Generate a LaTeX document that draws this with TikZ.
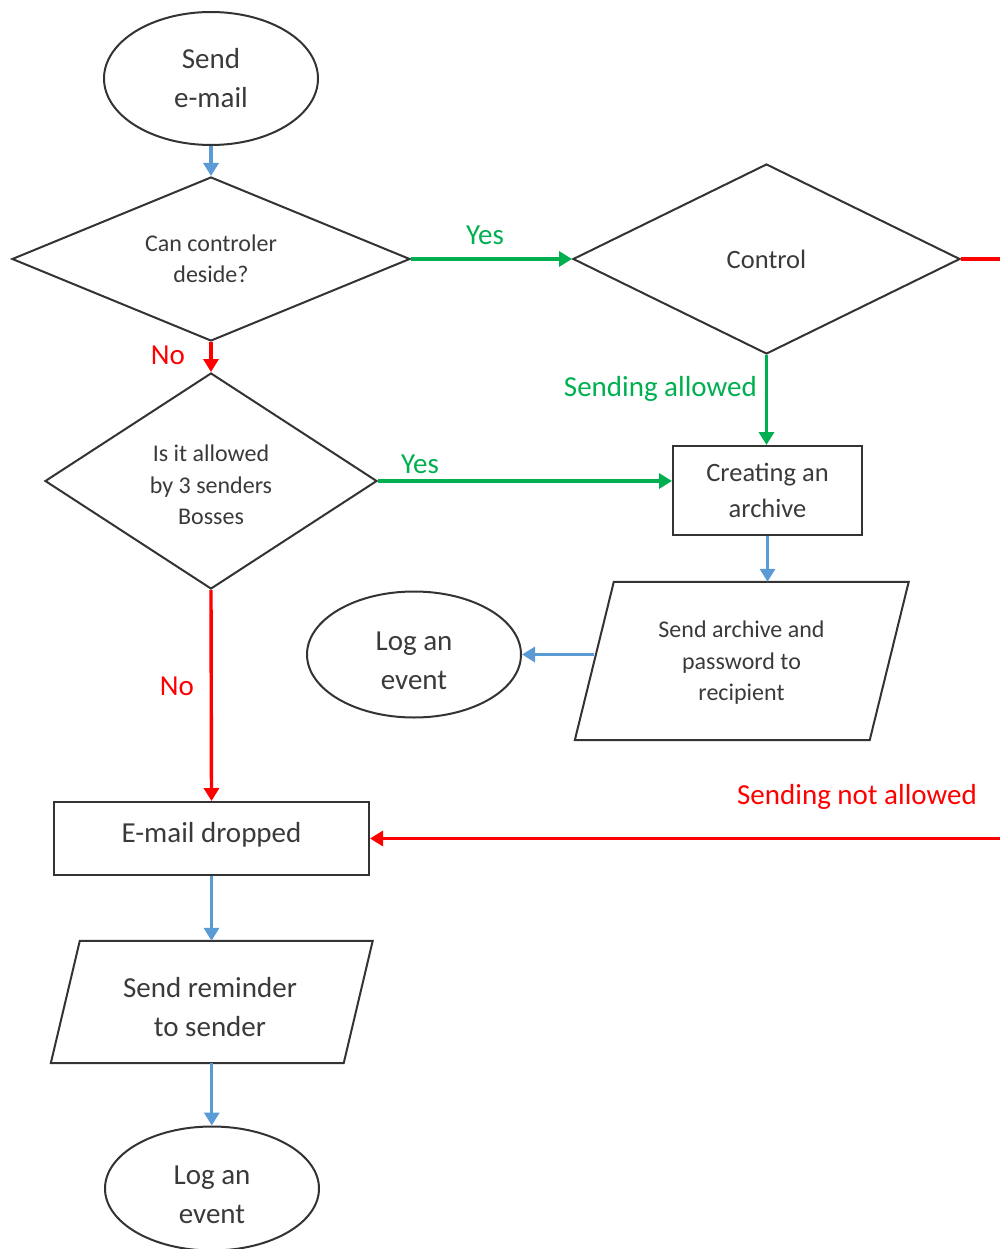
\documentclass[tikz,border=0pt]{standalone}
\usepackage{fontspec}
\setmainfont{Carlito}
\usetikzlibrary{shapes.geometric,arrows.meta}
\definecolor{flowblue}{HTML}{5B9BD5}
\definecolor{flowgreen}{HTML}{00B050}
\definecolor{flowred}{HTML}{FF0000}
\definecolor{inkgray}{HTML}{3A3A3A}
\begin{document}
\begin{tikzpicture}[x=1pt,y=-1pt,
  bigtext/.style={font=\fontsize{29}{39}\selectfont},
  midtext/.style={font=\fontsize{26.5}{36}\selectfont},
  smalltext/.style={font=\fontsize{24}{31.5}\selectfont},
  outline/.style={draw=black!80,line width=2pt,text=inkgray,align=center,inner sep=0pt},
  terminal/.style={outline,ellipse,minimum width=214pt,bigtext},
  decision/.style={outline,diamond,smalltext},
  process/.style={outline,rectangle},
  iobox/.style={rectangle,inner sep=0pt,align=center,text=inkgray},
  caption/.style={inner sep=0pt,align=center,text=inkgray},
  slanted/.style={draw=black!80,line width=2pt,line join=miter},
  conn/.style={line width=3.4pt,-{Triangle[length=13pt,width=15pt]}},
  flowlabel/.style={inner sep=0pt,bigtext}
]
\useasboundingbox (0,0) rectangle (1000,1249);
\clip (0,0) rectangle (1000,1249);

% start, decisions and process boxes
\node[terminal,minimum height=133pt] (send) at (211,78.5) {Send\\e-mail};
\node[decision,minimum width=398pt,minimum height=164pt,shape aspect=2.43] (d1) at (211,259) {Can controler\\deside?};
\node[decision,minimum width=387pt,minimum height=190pt,shape aspect=2.04,midtext] (ctl) at (766.5,259) {Control};
\node[decision,minimum width=332pt,minimum height=216pt,shape aspect=1.54] (d2) at (211,481) {};
\node[caption,smalltext] (d2text) at (211,485) {Is it allowed\\by 3 senders\\Bosses};
\node[process,minimum width=189pt,minimum height=89pt,midtext] (arch) at (767.5,490.5) {Creating an\\archive};

% data box: send archive
\node[iobox,minimum width=294.5pt,minimum height=158pt] (p1) at (741.75,661) {};
\draw[slanted] ([xshift=19.5pt]p1.north west) -- ([xshift=19.5pt]p1.north east)
  -- ([xshift=-19.5pt]p1.south east) -- ([xshift=-19.5pt]p1.south west) -- cycle;
\node[caption,smalltext] (p1text) at (741.5,663) {Send archive and\\password to\\recipient};

\node[terminal,minimum height=126pt] (log1) at (414,654.5) {};
\node[caption,bigtext] (log1text) at (414,661) {Log an\\event};

\node[process,minimum width=315pt,minimum height=73pt] (drop) at (211.5,838.5) {};
\node[caption,bigtext] (droptext) at (211.5,834.5) {E-mail dropped};

% data box: reminder
\node[iobox,minimum width=292.5pt,minimum height=122pt] (p2) at (211.75,1002) {};
\draw[slanted] ([xshift=14.5pt]p2.north west) -- ([xshift=14.5pt]p2.north east)
  -- ([xshift=-14.5pt]p2.south east) -- ([xshift=-14.5pt]p2.south west) -- cycle;
\node[caption,bigtext] (p2text) at (210,1007) {Send reminder\\to sender};

\node[terminal,minimum height=124pt] (log2) at (212,1188.5) {};
\node[caption,bigtext] (log2text) at (212,1195) {Log an\\event};

% connectors
\draw[conn,flowblue] (send.south) -- (d1.north);
\draw[conn,flowgreen] (d1.east) -- (ctl.west);
\draw[conn,flowred] (d1.south) -- (d2.north);
\draw[conn,flowgreen] (ctl.south) -- (ctl.south |- arch.north);
\draw[conn,flowgreen] (d2.east) -- (d2.east -| arch.west);
\draw[conn,flowblue] (arch.south) -- (arch.south |- p1.north);
\draw[conn,flowblue] (p1.west |- log1.east) -- (log1.east);
\draw[conn,flowred] (d2.south) -- (drop.north);
\coordinate (edge) at (1040,259);
\draw[conn,flowred] (ctl.east) -- (edge) |- (drop.east);
\draw[conn,flowblue] (drop.south) -- (drop.south |- p2.north);
\draw[conn,flowblue] (p2.south) -- (p2.south |- log2.north);

% connector labels
\node[flowlabel,text=flowgreen] (yes1) at (485,235) {Yes};
\node[flowlabel,text=flowgreen] (yes2) at (420,464) {Yes};
\node[flowlabel,text=flowred] (no1) at (168,355) {No};
\node[flowlabel,text=flowred] (no2) at (177,686) {No};
\node[flowlabel,text=flowgreen,anchor=east] (allowed) at (757,389) {Sending allowed};
\node[flowlabel,text=flowred] (denied) at (857,797) {Sending not allowed};
\end{tikzpicture}
\end{document}
